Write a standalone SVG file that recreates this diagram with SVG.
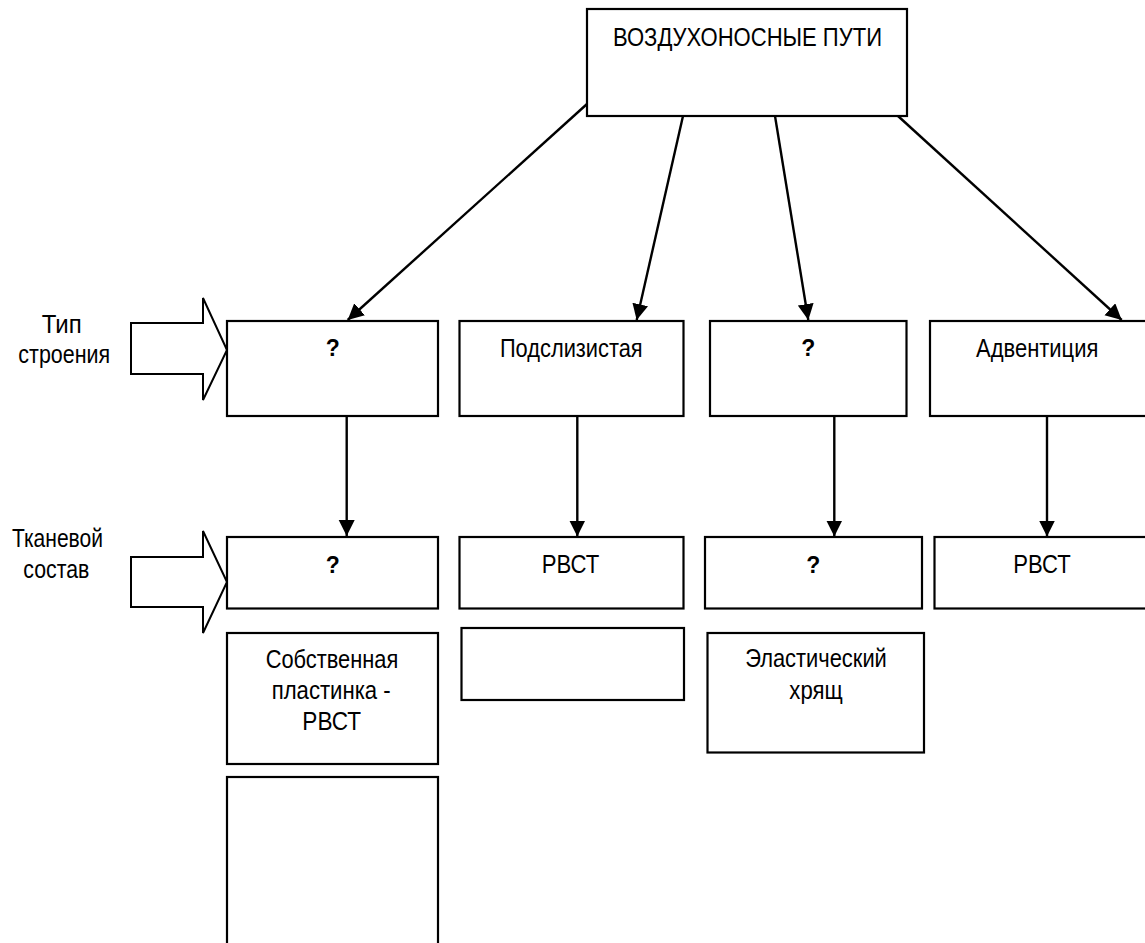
<svg xmlns="http://www.w3.org/2000/svg" width="1145" height="943" viewBox="0 0 1145 943">
<style>
  .box{fill:#fff;stroke:#000;stroke-width:2.2}
  .barrow{fill:#fff;stroke:#000;stroke-width:2;stroke-linejoin:miter}
  .t{font-family:"Liberation Sans Narrow","Liberation Sans",Arial,sans-serif;font-size:26px;fill:#000;text-anchor:middle}
  .q{font-family:"Liberation Sans","Arial",sans-serif;font-size:23px;font-weight:bold;fill:#000;text-anchor:middle}
  .c{stroke:#000;stroke-width:2.4;fill:none}
</style>
<defs>
  <marker id="ah" markerUnits="userSpaceOnUse" markerWidth="18" markerHeight="18" viewBox="0 0 18 18" refX="16" refY="8" orient="auto">
    <path d="M0,0 L16,8 L0,16 z" fill="#000"/>
  </marker>
</defs>
<rect width="1145" height="943" fill="#fff"/>

<g id="connectors">
  <line class="c" x1="587" y1="104" x2="347.7" y2="320" marker-end="url(#ah)"/>
  <line class="c" x1="683" y1="116" x2="636.7" y2="320" marker-end="url(#ah)"/>
  <line class="c" x1="775" y1="116" x2="808.3" y2="320" marker-end="url(#ah)"/>
  <line class="c" x1="898" y1="116" x2="1121.7" y2="320" marker-end="url(#ah)"/>
  <line class="c" x1="346.7" y1="416" x2="346.7" y2="536" marker-end="url(#ah)"/>
  <line class="c" x1="577.3" y1="416.5" x2="577.3" y2="536.5" marker-end="url(#ah)"/>
  <line class="c" x1="834.3" y1="416.5" x2="834.3" y2="536.5" marker-end="url(#ah)"/>
  <line class="c" x1="1047" y1="416" x2="1047" y2="536.5" marker-end="url(#ah)"/>
</g>

<g id="root">
  <rect class="box" x="587" y="9" width="320" height="107"/>
  <text class="t" x="747.5" y="46" textLength="269" lengthAdjust="spacingAndGlyphs">ВОЗДУХОНОСНЫЕ ПУТИ</text>
</g>

<g id="label-structure">
  <polygon class="barrow" points="131,323 203,323 203,298 227,350 203,400 203,374 131,374"/>
  <text class="t" x="61.7" y="333" textLength="40" lengthAdjust="spacingAndGlyphs">Тип</text>
  <text class="t" x="64.2" y="363" textLength="91.7" lengthAdjust="spacingAndGlyphs">строения</text>
</g>

<g id="label-tissue">
  <polygon class="barrow" points="131,557 203,557 203,531 227,582 203,633 203,607 131,607"/>
  <text class="t" x="57.5" y="546.7" textLength="91" lengthAdjust="spacingAndGlyphs">Тканевой</text>
  <text class="t" x="56.3" y="578.3" textLength="66" lengthAdjust="spacingAndGlyphs">состав</text>
</g>

<g id="r1b1">
  <rect class="box" x="227" y="321" width="211" height="95"/>
  <text class="q" x="332.7" y="356">?</text>
</g>
<g id="r1b2">
  <rect class="box" x="459.5" y="321" width="224" height="95"/>
  <text class="t" x="571.3" y="357" textLength="142.7" lengthAdjust="spacingAndGlyphs">Подслизистая</text>
</g>
<g id="r1b3">
  <rect class="box" x="710" y="321" width="196.5" height="95"/>
  <text class="q" x="808.3" y="356">?</text>
</g>
<g id="r1b4">
  <rect class="box" x="930" y="321" width="220" height="95"/>
  <text class="t" x="1037.2" y="357.3" textLength="122.3" lengthAdjust="spacingAndGlyphs">Адвентиция</text>
</g>

<g id="r2b1">
  <rect class="box" x="227" y="537" width="211" height="71.5"/>
  <text class="q" x="332.7" y="573.3">?</text>
</g>
<g id="r2b2">
  <rect class="box" x="459.5" y="537" width="224" height="71.5"/>
  <text class="t" x="570.5" y="573.3" textLength="57.6" lengthAdjust="spacingAndGlyphs">РВСТ</text>
</g>
<g id="r2b3">
  <rect class="box" x="705" y="537" width="217" height="71.5"/>
  <text class="q" x="813.3" y="573.3">?</text>
</g>
<g id="r2b4">
  <rect class="box" x="934.5" y="537" width="216" height="71.5"/>
  <text class="t" x="1042" y="573.3" textLength="57.4" lengthAdjust="spacingAndGlyphs">РВСТ</text>
</g>

<g id="r3b1">
  <rect class="box" x="227" y="633" width="211" height="131"/>
  <text class="t" x="332" y="667.7" textLength="132.7" lengthAdjust="spacingAndGlyphs">Собственная</text>
  <text class="t" x="331.2" y="699" textLength="119" lengthAdjust="spacingAndGlyphs">пластинка -</text>
  <text class="t" x="331.7" y="730" textLength="58.7" lengthAdjust="spacingAndGlyphs">РВСТ</text>
</g>
<g id="r3b2">
  <rect class="box" x="461.5" y="628" width="222.5" height="72"/>
</g>
<g id="r3b3">
  <rect class="box" x="707.5" y="633" width="216.5" height="119.5"/>
  <text class="t" x="816" y="666.7" textLength="141.7" lengthAdjust="spacingAndGlyphs">Эластический</text>
  <text class="t" x="816" y="699" textLength="53.4" lengthAdjust="spacingAndGlyphs">хрящ</text>
</g>
<g id="r4b1">
  <rect class="box" x="227" y="777" width="211" height="172"/>
</g>
</svg>
